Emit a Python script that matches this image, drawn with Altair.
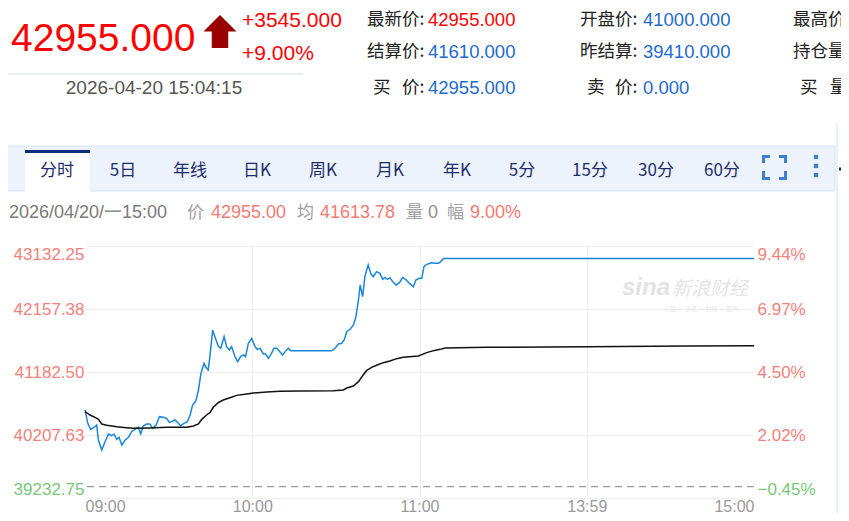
import altair as alt
import pandas as pd

# ---------------- data ----------------
PREV_SETTLE = 39410.0
Y_MIN, Y_MAX = 39232.75, 43132.25
y_ticks = [39232.75, 40207.625, 41182.5, 42157.375, 43132.25]
x_tick_pos = [0, 60, 120, 180, 240]
x_tick_labels = ["09:00", "10:00", "11:00", "13:59", "15:00"]

price_t = [0, 1, 2, 3.6, 4.2, 4.8, 6.0, 7.2, 8.4, 9.6,
           10.4, 11.4, 12.2, 13.2, 14.4, 15.6, 16.7, 17.9, 19.1, 20.0,
           20.9, 22.1, 23.3, 24.3, 25.5, 26.7, 28.1, 29.3, 30.3, 31.1,
           32.3, 33.5, 34.3, 35.5, 36.7, 37.7, 38.6, 39.8, 40.7, 41.6,
           42.7, 43.4, 44.2, 44.8, 45.8, 46.6, 47.8, 48.7, 49.9, 50.8,
           51.8, 52.6, 53.8, 54.8, 55.8, 56.8, 57.6, 58.6, 59.8, 61.0,
           61.8, 62.8, 64.0, 64.8, 65.8, 66.6, 67.8, 68.8, 69.9, 70.9,
           72.1, 72.9, 73.8, 88.5, 89.7, 90.9, 92.1, 93.0, 93.9, 95.1,
           96.3, 97.2, 98.1, 98.7, 99.6, 100.4, 101.6, 102.5, 103.4, 104.6,
           105.8, 106.8, 107.6, 108.5, 109.4, 110.4, 111.6, 112.8, 114.0, 115.2,
           116.4, 117.8, 118.7, 119.9, 120.8, 121.6, 122.6, 124.4, 125.6, 126.8,
           127.6, 128.6, 240]
price_v = [40595, 40388, 40295, 40337, 40362, 40130, 39975, 40104, 40223, 40197,
           40223, 40141, 40172, 40053, 40130, 40172, 40259, 40295, 40326, 40223,
           40347, 40378, 40378, 40311, 40362, 40491, 40481, 40465, 40404, 40414,
           40440, 40388, 40352, 40388, 40414, 40517, 40672, 40739, 40904, 41162,
           41317, 41255, 41214, 41420, 41832, 41729, 41585, 41549, 41729, 41575,
           41523, 41575, 41420, 41342, 41420, 41446, 41420, 41626, 41704, 41575,
           41533, 41549, 41461, 41461, 41394, 41446, 41549, 41549, 41497, 41446,
           41513, 41549, 41513, 41513, 41549, 41616, 41626, 41678, 41807, 41843,
           41910, 42039, 42297, 42529, 42348, 42658, 42838, 42709, 42658, 42735,
           42709, 42616, 42647, 42616, 42642, 42580, 42529, 42565, 42647, 42606,
           42554, 42503, 42606, 42632, 42632, 42812, 42848, 42874, 42864, 42864,
           42890, 42940, 42940]

avg_t = [0, 1.8, 3.6, 4.8, 6.0, 7.8, 11.4, 14.9, 17.3, 23.3,
         29.3, 36.5, 38.9, 40.7, 41.9, 43.6, 44.8, 46.0, 47.8, 49.6,
         52.0, 54.4, 58.0, 60.4, 65.2, 70.0, 77.1, 89.1, 92.7, 93.9,
         96.3, 98.1, 99.8, 101.0, 102.8, 104.6, 107.0, 109.4, 111.8, 114.2,
         119.6, 122.6, 125.0, 127.4, 129.2, 144.1, 180.0, 215.8, 240]
avg_v = [40569, 40517, 40481, 40450, 40378, 40357, 40337, 40321, 40311, 40316,
         40326, 40326, 40347, 40378, 40450, 40517, 40553, 40636, 40708, 40749,
         40785, 40821, 40842, 40858, 40873, 40884, 40889, 40894, 40904, 40935,
         40966, 41033, 41136, 41203, 41255, 41286, 41327, 41353, 41389, 41410,
         41430, 41482, 41513, 41533, 41554, 41564, 41575, 41585, 41590]

# header texts
big_price = "42955.000"
chg_abs = "+3545.000"
chg_pct = "+9.00%"
stamp = "2026-04-20 15:04:15"
info_labels = ["最新价:", "开盘价:", "最高价:", "结算价:", "昨结算:", "持仓量:"]
info_values = ["42955.000", "41000.000", "41610.000", "39410.000"]
row3 = ["买", "价:", "42955.000", "卖", "价:", "0.000", "买", "量:"]
tabs = ["分时", "5日", "年线", "日K", "周K", "月K", "年K", "5分", "15分", "30分", "60分"]
bar_parts = ["2026/04/20/一15:00", "价", "42955.00", "均", "41613.78", "量", "0", "幅", "9.00%"]

# ---------------- style / layout ----------------
LAT = "Arial, Liberation Sans, sans-serif"
CJK = "Noto Sans CJK SC"
X0, Y0 = 85, 246          # page position of plot origin
W, H = 669, 252
SALMON = "#f4817b"
GREEN = "#79c879"
BLUE_TXT = "#1f6bcf"
NAVY = "#1e2d6b"

one = pd.DataFrame({"a": [0]})


def T(text, px, py, size, color, font=LAT, align="left", weight="normal", style="normal"):
    return alt.Chart(pd.DataFrame({"t": [text]})).mark_text(
        align=align, baseline="middle", fontSize=size, color=color, font=font,
        fontWeight=weight, fontStyle=style
    ).encode(text="t:N", x=alt.value(px - X0), y=alt.value(py - Y0))


def R(x1, x2, y1, y2, fill, stroke=None, sw=1):
    kw = dict(color=fill)
    if stroke is not None:
        kw.update(stroke=stroke, strokeWidth=sw)
    return alt.Chart(one).mark_rect(**kw).encode(
        x=alt.value(x1 - X0), x2=alt.value(x2 - X0), y=alt.value(y1 - Y0), y2=alt.value(y2 - Y0))


def L(x1, y1, x2, y2, color, sw=1):
    return alt.Chart(one).mark_rule(color=color, strokeWidth=sw).encode(
        x=alt.value(x1 - X0), x2=alt.value(x2 - X0), y=alt.value(y1 - Y0), y2=alt.value(y2 - Y0))


label_expr = "[" + ",".join(f"'{s}'" for s in x_tick_labels) + "][round(datum.value/60)]"
x_enc = alt.X(
    "t:Q", scale=alt.Scale(domain=[0, 240], nice=False, zero=False),
    axis=alt.Axis(values=x_tick_pos, labelExpr=label_expr, labelFlush=True, ticks=False,
                  domain=False, grid=True,
                  gridColor={"condition": {"test": "datum.value == 0 || datum.value == 240",
                                           "value": "transparent"}, "value": "#eeeeee"},
                  labelColor="#999999", labelFont=LAT, labelFontSize=16, labelPadding=0,
                  title=None))
yscale = alt.Scale(domain=[Y_MIN, Y_MAX], nice=False, zero=False)
lab_color = {"condition": {"test": f"datum.value < {PREV_SETTLE}", "value": GREEN}, "value": SALMON}

y_left = alt.Y("v:Q", scale=yscale, axis=alt.Axis(
    orient="left", values=y_ticks, format=".2f", labelFlush=True, ticks=False, domain=False,
    grid=True, gridColor="#eeeeee", labelColor=lab_color, labelFont=LAT, labelFontSize=17,
    labelPadding=1, title=None))
y_right = alt.Y("v:Q", scale=yscale, axis=alt.Axis(
    orient="right", values=y_ticks,
    labelExpr=f"format((datum.value/{PREV_SETTLE}-1)*100, '.2f') + '%'",
    labelFlush=True, ticks=False, domain=False, grid=False, labelColor=lab_color,
    labelFont=LAT, labelFontSize=17, labelPadding=3, title=None))

price_df = pd.DataFrame({"t": price_t, "v": price_v})
avg_df = pd.DataFrame({"t": avg_t, "v": avg_v})

blue = alt.Chart(price_df).mark_line(color="#1a86d8", strokeWidth=1.5).encode(x=x_enc, y=y_left)
black = alt.Chart(avg_df).mark_line(color="#111111", strokeWidth=1.5).encode(x=x_enc, y=y_right)
dash = alt.Chart(pd.DataFrame({"v": [PREV_SETTLE]})).mark_rule(
    color="#9a9a9a", strokeDash=[7, 5], strokeWidth=1.2).encode(
    y=alt.Y("v:Q", scale=yscale, axis=None))

layers = []
# panel decorations
layers.append(R(3, 835, 146, 191, "#ecf3fd", "#d3e2f4", 1))
layers.append(R(25, 90, 151, 192, "#ffffff"))
layers.append(R(25, 90, 150, 153, "#0d2c7c"))
layers.append(L(837, 123, 837, 521, "#d5e2f0", 1))
layers.append(L(839, 169, 849, 169, "#0d2c7c", 3))
layers.append(L(8, 74, 303, 74, "#d7e1ec", 1))

# header
layers.append(T(big_price, 11, 39, 39, "#ff0000"))
layers.append(alt.Chart(one).mark_point(
    shape="M0,-1 L1,0 L0.5,0 L0.5,1 L-0.5,1 L-0.5,0 L-1,0 Z", filled=True, size=1090,
    color="#990000", opacity=1).encode(x=alt.value(220 - X0), y=alt.value(31.5 - Y0)))
layers.append(T(chg_abs, 242, 21, 21, "#ff0000"))
layers.append(T(chg_pct, 242, 54, 21, "#ff0000"))
layers.append(T(stamp, 154, 88, 19, "#555555", align="center"))

cols_lab = [367, 580, 793]
cols_val = [428, 643]
rows_y = [20, 52, 88]
for i, lab in enumerate(info_labels):
    layers.append(T(lab, cols_lab[i % 3], rows_y[i // 3], 17.5, "#222222", font=CJK))
layers.append(T(info_values[0], cols_val[0], rows_y[0], 18.5, "#ff0000"))
layers.append(T(info_values[1], cols_val[1], rows_y[0], 18.5, BLUE_TXT))
layers.append(T(info_values[2], cols_val[0], rows_y[1], 18.5, BLUE_TXT))
layers.append(T(info_values[3], cols_val[1], rows_y[1], 18.5, BLUE_TXT))
row3_x = [373, 402, 428, 587, 615, 643, 800, 830]
for s, xx in zip(row3, row3_x):
    is_val = s[0].isdigit()
    layers.append(T(s, xx, rows_y[2], 18.5 if is_val else 17.5,
                    BLUE_TXT if is_val else "#222222", font=LAT if is_val else CJK))

# tabs
tab_x = [57, 123, 190, 257, 323, 390, 457, 522, 590, 656, 722]
for s, xx in zip(tabs, tab_x):
    layers.append(T(s, xx, 171, 17, NAVY, font=CJK, align="center"))
icon = "#3f7fd0"
for seg in [(762, 156.5, 770, 156.5), (763.5, 155, 763.5, 163),
            (779, 156.5, 787, 156.5), (785.5, 155, 785.5, 163),
            (762, 178.5, 770, 178.5), (763.5, 171, 763.5, 180),
            (779, 178.5, 787, 178.5), (785.5, 171, 785.5, 180)]:
    layers.append(L(*seg, icon, 3))
for yy in [157, 166, 175]:
    layers.append(alt.Chart(one).mark_square(size=18, color=icon, opacity=1).encode(
        x=alt.value(816 - X0), y=alt.value(yy - Y0)))

# info bar
bar_x = [9, 187, 211, 297, 320, 406, 428, 447, 470]
bar_c = ["#7a7a7a", "#a0a0a0", "#f47a72", "#a0a0a0", "#f47a72", "#a0a0a0", "#909090", "#a0a0a0", "#f47a72"]
for s, xx, cc in zip(bar_parts, bar_x, bar_c):
    cjk = s in ("价", "均", "量", "幅")
    layers.append(T(s, xx, 213, 18 if not cjk else 17, cc, font=CJK if cjk else LAT))

# watermark
layers.append(T("sina", 622, 288, 24, "#e2e2e2", weight="bold", style="italic"))
layers.append(T("新浪财经", 672, 289, 19, "#e4e4e4", font=CJK, style="italic"))
layers.append(T("众赢 · 资讯 · 财经 · 服务", 664, 309, 6, "#e6e6e6", font=CJK))

chart = alt.layer(blue, black, dash, *layers).resolve_scale(y="independent").properties(
    width=W, height=H,
    padding={"left": X0 - 8, "top": Y0 - 8, "right": 841 - (X0 + W), "bottom": 15},
    autosize=alt.AutoSizeParams(type="none"),
    background="#ffffff",
).configure_view(stroke="transparent")

chart.save("out.html", embed_options={"renderer": "svg", "actions": False})
